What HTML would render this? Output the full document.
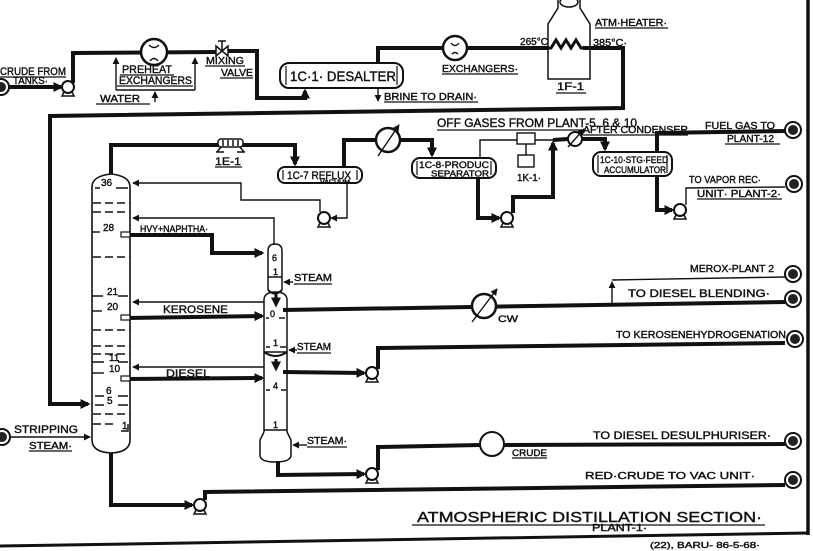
<!DOCTYPE html>
<html><head><meta charset="utf-8">
<style>
html,body{margin:0;padding:0;background:#fff;}
svg{display:block;}
text{font-family:"Liberation Sans",sans-serif;fill:#111;stroke:#111;stroke-width:0.4px;}
</style></head><body>
<svg width="813" height="551" viewBox="0 0 813 551" xmlns="http://www.w3.org/2000/svg">
<defs>
<marker id="a" viewBox="0 0 8 8" refX="7" refY="4" markerWidth="7" markerHeight="7" markerUnits="userSpaceOnUse" orient="auto"><path d="M0,0 L8,4 L0,8 z" fill="#111"/></marker>
<marker id="b" viewBox="0 0 8 8" refX="6" refY="4" markerWidth="10" markerHeight="10" markerUnits="userSpaceOnUse" orient="auto"><path d="M0,0 L8,4 L0,8 z" fill="#111"/></marker>
</defs>

<!-- frame -->
<line x1="808" y1="0" x2="808" y2="535" stroke="#111" stroke-width="3.5"/>
<line x1="0" y1="546" x2="808" y2="533" stroke="#111" stroke-width="3"/>

<!-- THICK PROCESS LINES -->
<g stroke="#111" stroke-width="4" fill="none" stroke-linejoin="miter">
<path d="M9,87 L61,87" marker-end="url(#b)"/>
<path d="M73,83 L73,53 L218,52"/>
<path d="M228,51 L257,51 L257,98 L305,98 L305,91" marker-end="url(#b)"/>
<path d="M378,63 L378,48 L548,48"/>
<path d="M583,48 L623,48 L623,108 L50,116 L50,404 L88,404" marker-end="url(#b)"/>
<path d="M111,174 L111,145 L295,145 L295,164" marker-end="url(#b)"/>
<path d="M344,167 L344,140 L376,140"/>
<path d="M400,140 L432,140 L432,155" marker-end="url(#b)"/>
<path d="M126,235 L212,235 L212,253 L262,253" marker-end="url(#b)"/>
<path d="M126,318 L262,316" marker-end="url(#b)"/>
<path d="M283,310 L785,302"/>
<path d="M126,379 L262,378" marker-end="url(#b)"/>
<path d="M283,372 L364,373" marker-end="url(#b)"/>
<path d="M378,369 L378,348 L785,343"/>
<path d="M278,461 L278,475 L364,474" marker-end="url(#b)"/>
<path d="M378,470 L378,447 L480,445"/>
<path d="M504,445 L785,444"/>
<path d="M111,453 L111,505 L192,505" marker-end="url(#b)"/>
<path d="M205,500 L205,492 L785,485"/>
<path d="M478,178 L478,218 L499,218" marker-end="url(#b)"/>
<path d="M513,213 L513,197 L553,197 L553,143" marker-end="url(#b)"/>
<path d="M553,140 L568,139"/>
<path d="M582,139 L605,139 L605,149" marker-end="url(#b)"/>
<path d="M657,152 L657,133 L785,131"/>
<path d="M657,176 L657,210 L672,210" marker-end="url(#b)"/>
</g>
<g stroke="#111" stroke-width="3" fill="none">
<path d="M276,293 L276,305" marker-end="url(#b)"/>
<path d="M276,359 L276,369" marker-end="url(#b)"/>
<path d="M545,48 L551,48 L556,40 L561,48 L566,40 L571,48 L576,40 L581,48 L588,48"/>
</g>

<!-- THIN LINES -->
<g stroke="#111" stroke-width="1.4" fill="none">
<path d="M116,90 L116,58" marker-end="url(#a)"/>
<path d="M195,90 L195,58" marker-end="url(#a)"/>
<path d="M116,90 L195,90"/>
<path d="M155,102 L155,92" marker-end="url(#a)"/>
<path d="M378,88 L378,101" marker-end="url(#a)"/>
<path d="M347,183 L347,218 L331,218" marker-end="url(#a)"/>
<path d="M320,212 L320,200 L241,200 L241,183 L133,183" marker-end="url(#a)"/>
<path d="M274,245 L274,218 L133,218" marker-end="url(#a)"/>
<path d="M264,302 L133,302" marker-end="url(#a)"/>
<path d="M264,367 L133,367" marker-end="url(#a)"/>
<path d="M293,282 L284,282" marker-end="url(#a)"/>
<path d="M297,350 L289,350" marker-end="url(#a)"/>
<path d="M307,445 L293,445" marker-end="url(#a)"/>
<path d="M10,437 L90,437" marker-end="url(#a)"/>
<path d="M480,158 L480,140 L517,140"/>
<path d="M535,140 L553,140"/>
<path d="M526,144 L526,155"/>
<path d="M612,304 L612,282" marker-end="url(#a)"/>
<path d="M612,280 L785,277"/>
<path d="M686,205 L686,188 L785,187"/>
</g>

<!-- exchangers -->
<g stroke="#111" fill="#fff">
<circle cx="154" cy="52" r="13" stroke-width="2.5"/>
<circle cx="455" cy="48" r="12" stroke-width="2.5"/>
<circle cx="388" cy="140" r="12" stroke-width="2.5"/>
<circle cx="484" cy="306" r="12" stroke-width="2.5"/>
<circle cx="575" cy="139" r="7" stroke-width="2"/>
<circle cx="492" cy="444" r="12" stroke-width="2"/>
</g>
<g stroke="#111" stroke-width="1.4" fill="none">
<path d="M149,45 Q154,50 159,45"/><path d="M150,61 Q154,56 158,61"/>
<path d="M451,43 Q455,48 459,43"/><path d="M452,54 Q455,51 458,54"/>
<path d="M378,156 L399,125" marker-end="url(#a)"/>
<path d="M568,147 L584,129" marker-end="url(#a)"/>
<path d="M472,322 L497,289" marker-end="url(#a)"/>
</g>

<!-- mixing valve -->
<g stroke="#111" stroke-width="1.5" fill="#fff">
<polygon points="216,46 216,56 222,51"/>
<polygon points="228,46 228,56 222,51"/>
<path d="M222,51 L222,41 M218,41 L226,41" fill="none"/>
</g>

<!-- vessels -->
<g stroke="#111" stroke-width="2" fill="#fff">
<rect x="280" y="63" width="123" height="25" rx="9"/>
<rect x="278" y="167" width="84" height="16" rx="7"/>
<rect x="412" y="158" width="84" height="20" rx="8"/>
<rect x="593" y="152" width="79" height="24" rx="8"/>
</g>
<g stroke="#111" stroke-width="1.2" fill="none">
<path d="M286,66 L286,85 M397,66 L397,85"/>
<path d="M283,170 L283,180 M357,170 L357,180"/>
<path d="M417,161 L417,175 M491,161 L491,175"/>
<path d="M598,155 L598,173 M667,155 L667,173"/>
</g>

<!-- 1K-1 -->
<g stroke="#111" stroke-width="1.4" fill="#fff">
<rect x="517" y="133" width="18" height="11"/>
<rect x="518" y="155" width="16" height="12"/>
</g>

<!-- 1E-1 -->
<g stroke="#111" stroke-width="1.5" fill="#fff">
<rect x="218" y="139" width="25" height="8" rx="3"/>
<path d="M223,140 L223,146 M228,140 L228,146 M233,140 L233,146 M238,140 L238,146 M221,147 L217,152 M240,147 L244,152 M216,152 L224,152 M237,152 L245,152" fill="none"/>
</g>

<!-- heater -->
<g stroke="#111" stroke-width="1.5" fill="none">
<polyline points="558,0 558,8 548,24 548,79 590,79 590,24 580,8 580,0"/>
<ellipse cx="569" cy="2" rx="9" ry="5"/>
</g>

<!-- main column -->
<g stroke="#111" stroke-width="1.6" fill="none">
<path d="M92,440 L92,187 Q92,176 111,174 Q130,176 130,187 L130,440 Q130,452 111,453 Q92,452 92,440 Z"/>
</g>
<g stroke="#111" stroke-width="1.4" fill="none">
<path d="M95,188 L100,188 M116,188 L128,188"/>
<path d="M93,203 L130,203 M93,212 L130,212 M93,257 L130,257 M93,330 L130,330 M93,346 L130,346 M93,354 L130,354 M93,414 L130,414" stroke-dasharray="8,4"/>
<path d="M93,424 L116,424" stroke-dasharray="8,4"/>
<path d="M92,232 L100,232"/>
<path d="M92,296 L103,296 M118,296 L128,296"/>
<path d="M92,311 L102,311"/>
<path d="M92,362 L104,362 M118,362 L128,362"/>
<path d="M92,373 L104,373"/>
<path d="M95,396 L104,396 M118,396 L128,396"/>
<path d="M95,405 L104,405 M118,405 L128,405"/>
<path d="M121,431 L128,431 L128,424"/>
</g>
<g stroke="#111" stroke-width="1.2" fill="#fff">
<rect x="121" y="232" width="9" height="5"/>
<rect x="121" y="315" width="9" height="5"/>
<rect x="121" y="376" width="9" height="5"/>
</g>

<!-- side stripper -->
<g stroke="#111" stroke-width="1.5" fill="none">
<path d="M268,290 L268,251 Q268,244 275,244 Q282,244 282,251 L282,290"/>
<path d="M268,290 Q275,297 282,290" stroke-width="2"/>
<path d="M268,277 L282,277"/>
<path d="M264,432 L264,300 Q264,292 275.5,292 Q287,292 287,300 L287,432"/>
<path d="M264,432 L260,440 L260,455 Q260,462 275,462 Q291,462 291,455 L291,440 L287,432"/>
<path d="M264,430 L287,430"/>
<path d="M264,352 L287,352"/>
<path d="M264,352 Q275.5,360 287,352" stroke-width="2"/>
<path d="M266,347 L270,347 M280,347 L286,347"/>
<path d="M266,390 L270,390 M281,390 L286,390"/>
<path d="M266,318 L269,318 M279,318 L285,318"/>
</g>

<!-- pumps -->
<g stroke="#111" stroke-width="2" fill="#fff">
<circle cx="68" cy="87" r="6"/>
<circle cx="324" cy="218" r="6"/>
<circle cx="507" cy="218" r="6"/>
<circle cx="680" cy="210" r="6"/>
<circle cx="372" cy="373" r="6"/>
<circle cx="372" cy="474" r="6"/>
<circle cx="200" cy="505" r="6"/>
</g>
<g stroke="#111" stroke-width="1.5" fill="none">
<path d="M64,92 L62,96 L74,96 L72,92"/>
<path d="M320,223 L318,227 L330,227 L328,223"/>
<path d="M503,223 L501,227 L513,227 L511,223"/>
<path d="M676,215 L674,219 L686,219 L684,215"/>
<path d="M368,378 L366,382 L378,382 L376,378"/>
<path d="M368,479 L366,483 L378,483 L376,479"/>
<path d="M196,510 L194,514 L206,514 L204,510"/>
</g>

<!-- terminals -->
<g stroke="#111" stroke-width="2" fill="#fff">
<circle cx="1" cy="87" r="8"/>
<circle cx="2" cy="437" r="8"/>
<circle cx="793" cy="130" r="8"/>
<circle cx="794" cy="184" r="8"/>
<circle cx="793" cy="274" r="8"/>
<circle cx="793" cy="299" r="8"/>
<circle cx="795" cy="339" r="8"/>
<circle cx="793" cy="441" r="8"/>
<circle cx="793" cy="480" r="8"/>
</g>
<g fill="#222">
<circle cx="1" cy="87" r="5"/>
<circle cx="2" cy="437" r="5"/>
<circle cx="793" cy="130" r="5"/>
<circle cx="794" cy="184" r="5"/>
<circle cx="793" cy="274" r="5"/>
<circle cx="793" cy="299" r="5"/>
<circle cx="795" cy="339" r="5"/>
<circle cx="793" cy="441" r="5"/>
<circle cx="793" cy="480" r="5"/>
</g>

<!-- underlines -->
<g stroke="#111" stroke-width="1.3">
<line x1="0" y1="77" x2="66" y2="77"/>
<line x1="120" y1="75" x2="174" y2="75"/>
<line x1="117" y1="86" x2="193" y2="86"/>
<line x1="96" y1="104" x2="150" y2="104"/>
<line x1="205" y1="66" x2="245" y2="66"/>
<line x1="220" y1="78" x2="253" y2="78"/>
<line x1="384" y1="102" x2="478" y2="102"/>
<line x1="442" y1="74" x2="518" y2="74"/>
<line x1="595" y1="28" x2="668" y2="28"/>
<line x1="556" y1="93" x2="586" y2="93"/>
<line x1="215" y1="167" x2="242" y2="167"/>
<line x1="437" y1="130" x2="582" y2="130"/>
<line x1="583" y1="135" x2="688" y2="135"/>
<line x1="725" y1="144" x2="780" y2="144"/>
<line x1="697" y1="199" x2="782" y2="199"/>
<line x1="294" y1="284" x2="332" y2="284"/>
<line x1="297" y1="353" x2="331" y2="353"/>
<line x1="307" y1="447" x2="347" y2="447"/>
<line x1="29" y1="451" x2="72" y2="451"/>
<line x1="512" y1="458" x2="547" y2="458"/>
<line x1="412" y1="525" x2="765" y2="525"/>
</g>

<!-- text -->
<text x="0" y="75" font-size="11" textLength="66" lengthAdjust="spacingAndGlyphs">CRUDE FROM</text>
<text x="13" y="84" font-size="10" textLength="35" lengthAdjust="spacingAndGlyphs">TANKS·</text>
<text x="122" y="73" font-size="11" textLength="50" lengthAdjust="spacingAndGlyphs">PREHEAT</text>
<text x="119" y="84" font-size="11" textLength="73" lengthAdjust="spacingAndGlyphs">EXCHANGERS</text>
<text x="100" y="102" font-size="10" textLength="40" lengthAdjust="spacingAndGlyphs">WATER</text>
<text x="206" y="64" font-size="10" textLength="38" lengthAdjust="spacingAndGlyphs">MIXING</text>
<text x="221" y="76" font-size="10" textLength="32" lengthAdjust="spacingAndGlyphs">VALVE</text>
<text x="290" y="81" font-size="14" textLength="106" lengthAdjust="spacingAndGlyphs">1C·1· DESALTER</text>
<text x="384" y="100" font-size="10" textLength="93" lengthAdjust="spacingAndGlyphs">BRINE TO DRAIN·</text>
<text x="442" y="72" font-size="10" textLength="76" lengthAdjust="spacingAndGlyphs">EXCHANGERS·</text>
<text x="520" y="45" font-size="10" textLength="28" lengthAdjust="spacingAndGlyphs">265°C</text>
<text x="593" y="46" font-size="10" textLength="34" lengthAdjust="spacingAndGlyphs">385°C·</text>
<text x="595" y="26" font-size="10" textLength="72" lengthAdjust="spacingAndGlyphs">ATM·HEATER·</text>
<text x="557" y="90" font-size="11" textLength="27" lengthAdjust="spacingAndGlyphs">1F-1</text>
<text x="215" y="165" font-size="11" textLength="26" lengthAdjust="spacingAndGlyphs">1E-1</text>
<text x="287" y="179" font-size="11" textLength="64" lengthAdjust="spacingAndGlyphs">1C-7 REFLUX</text>
<text x="320" y="183.5" font-size="5" textLength="30" lengthAdjust="spacingAndGlyphs">VACUUM</text>
<text x="437" y="127" font-size="12" textLength="200" lengthAdjust="spacingAndGlyphs">OFF GASES FROM PLANT-5, 6 &amp; 10</text>
<text x="583" y="133" font-size="10" textLength="105" lengthAdjust="spacingAndGlyphs">AFTER CONDENSER</text>
<text x="705" y="129" font-size="10" textLength="70" lengthAdjust="spacingAndGlyphs">FUEL GAS TO</text>
<text x="727" y="142" font-size="10" textLength="47" lengthAdjust="spacingAndGlyphs">PLANT-12</text>
<text x="419" y="168" font-size="9" textLength="70" lengthAdjust="spacingAndGlyphs">1C-8·PRODUC</text>
<text x="431" y="176.5" font-size="8.5" textLength="58" lengthAdjust="spacingAndGlyphs">SEPARATOR</text>
<text x="517" y="181" font-size="10" textLength="24" lengthAdjust="spacingAndGlyphs">1K-1·</text>
<text x="600" y="163" font-size="9" textLength="68" lengthAdjust="spacingAndGlyphs">1C-10·STG·FEED</text>
<text x="604" y="173" font-size="9" textLength="62" lengthAdjust="spacingAndGlyphs">ACCUMULATOR</text>
<text x="689" y="183" font-size="10" textLength="72" lengthAdjust="spacingAndGlyphs">TO VAPOR REC·</text>
<text x="697" y="197" font-size="10" textLength="84" lengthAdjust="spacingAndGlyphs">UNIT· PLANT-2·</text>
<text x="140" y="232" font-size="9" textLength="68" lengthAdjust="spacingAndGlyphs">HVY+NAPHTHA·</text>
<text x="294" y="281" font-size="10" textLength="38" lengthAdjust="spacingAndGlyphs">STEAM</text>
<text x="163" y="313" font-size="11" textLength="65" lengthAdjust="spacingAndGlyphs">KEROSENE</text>
<text x="297" y="350" font-size="10" textLength="34" lengthAdjust="spacingAndGlyphs">STEAM</text>
<text x="166" y="377" font-size="11" textLength="44" lengthAdjust="spacingAndGlyphs">DIESEL</text>
<text x="307" y="444" font-size="10" textLength="40" lengthAdjust="spacingAndGlyphs">STEAM·</text>
<text x="14" y="433" font-size="11" textLength="64" lengthAdjust="spacingAndGlyphs">STRIPPING</text>
<text x="29" y="449" font-size="10" textLength="43" lengthAdjust="spacingAndGlyphs">STEAM·</text>
<text x="690" y="272" font-size="10" textLength="84" lengthAdjust="spacingAndGlyphs">MEROX-PLANT 2</text>
<text x="628" y="297" font-size="11" textLength="142" lengthAdjust="spacingAndGlyphs">TO DIESEL BLENDING·</text>
<text x="498" y="322" font-size="9" textLength="20" lengthAdjust="spacingAndGlyphs">CW</text>
<text x="616" y="338" font-size="10" textLength="170" lengthAdjust="spacingAndGlyphs">TO KEROSENEHYDROGENATION</text>
<text x="593" y="439" font-size="11" textLength="178" lengthAdjust="spacingAndGlyphs">TO DIESEL DESULPHURISER·</text>
<text x="512" y="456" font-size="9" textLength="35" lengthAdjust="spacingAndGlyphs">CRUDE</text>
<text x="585" y="479" font-size="10" textLength="170" lengthAdjust="spacingAndGlyphs">RED·CRUDE TO VAC UNIT·</text>
<text x="417" y="522" font-size="15" textLength="345" lengthAdjust="spacingAndGlyphs">ATMOSPHERIC DISTILLATION SECTION·</text>
<text x="592" y="531" font-size="10" textLength="55" lengthAdjust="spacingAndGlyphs">PLANT-1·</text>
<text x="650" y="548" font-size="8" textLength="110" lengthAdjust="spacingAndGlyphs">(22), BARU- 86-5-68·</text>

<!-- column tray numbers -->
<g font-size="10">
<text x="101" y="186">36</text>
<text x="103" y="231">28</text>
<text x="107" y="295">21</text>
<text x="107" y="310">20</text>
<text x="109" y="361">11</text>
<text x="109" y="372">10</text>
<text x="106" y="394">6</text>
<text x="107" y="404">5</text>
<text x="122" y="429">1</text>
</g>
<g font-size="9">
<text x="272" y="261">6</text>
<text x="273" y="275">1</text>
<text x="270" y="317">0</text>
<text x="273" y="346">1</text>
<text x="273" y="389">4</text>
<text x="273" y="428">1</text>
</g>
</svg>
</body></html>
